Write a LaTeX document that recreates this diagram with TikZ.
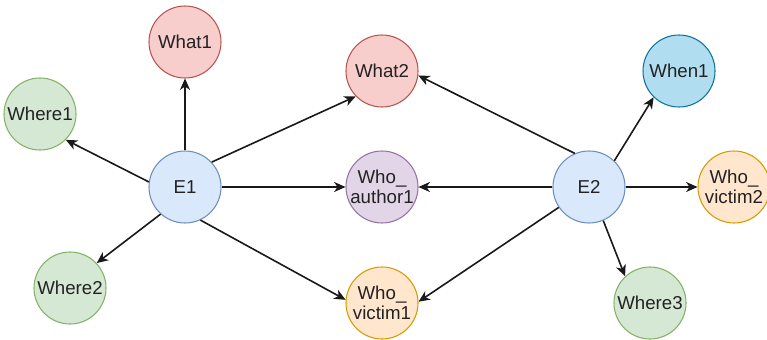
\documentclass[tikz,border=0pt]{standalone}
\usepackage{fontspec}
\setmainfont{Liberation Sans}
\usetikzlibrary{arrows.meta}
\definecolor{bluefill}{HTML}{DAE8FC}\definecolor{bluedraw}{HTML}{6C8EBF}
\definecolor{redfill}{HTML}{F8CECC}\definecolor{reddraw}{HTML}{B85450}
\definecolor{greenfill}{HTML}{D5E8D4}\definecolor{greendraw}{HTML}{82B366}
\definecolor{purplefill}{HTML}{E1D5E7}\definecolor{purpledraw}{HTML}{9673A6}
\definecolor{orangefill}{HTML}{FFE6CC}\definecolor{orangedraw}{HTML}{D79B00}
\definecolor{cyanfill}{HTML}{B1DDF0}\definecolor{cyandraw}{HTML}{10739E}
\definecolor{txt}{HTML}{222222}
\begin{document}
\begin{tikzpicture}[x=0.75pt,y=-0.75pt,
  ent/.style={circle,minimum size=54pt,inner sep=0pt,line width=0.8pt,
    font=\fontsize{14}{15}\selectfont,text=txt,align=center},
  bluen/.style={ent,fill=bluefill,draw=bluedraw},
  redn/.style={ent,fill=redfill,draw=reddraw},
  greenn/.style={ent,fill=greenfill,draw=greendraw},
  purplen/.style={ent,fill=purplefill,draw=purpledraw},
  orangen/.style={ent,fill=orangefill,draw=orangedraw},
  cyann/.style={ent,fill=cyanfill,draw=cyandraw},
  link/.style={draw=black!90,line width=1.2pt,-{Stealth[length=8.5pt,width=7.5pt,inset=2.5pt]}}]
\useasboundingbox (0,0) rectangle (767,339);
\node[bluen] (E1) at (185,187) {E1};
\node[bluen] (E2) at (589,187) {E2};
\node[redn] (What1) at (185,42) {What1};
\node[redn] (What2) at (382,71) {What2};
\node[greenn] (Where1) at (40,114) {Where1};
\node[greenn] (Where2) at (70,288) {Where2};
\node[greenn] (Where3) at (650,303) {Where3};
\node[purplen] (Author1) at (382,187) {Who\_\\author1};
\node[orangen] (Victim1) at (382,303) {Who\_\\victim1};
\node[orangen] (Victim2) at (734,187) {Who\_\\victim2};
\node[cyann] (When1) at (679,71) {When1};
\draw[link] (E1.90) -- (What1.270);
\draw[link] (E1.172) -- (Where1.-45);
\draw[link] (E1.228) -- (Where2.43);
\draw[link] (E1.43) -- (What2.224);
\draw[link] (E1.0) -- (Author1.180);
\draw[link] (E1.-65) -- (Victim1.175);
\draw[link] (E2.113) -- (What2.-7);
\draw[link] (E2.180) -- (Author1.0);
\draw[link] (E2.214) -- (Victim1.2);
\draw[link] (E2.46) -- (When1.226);
\draw[link] (E2.0) -- (Victim2.180);
\draw[link] (E2.-67) -- (Where3.133);
\end{tikzpicture}
\end{document}
